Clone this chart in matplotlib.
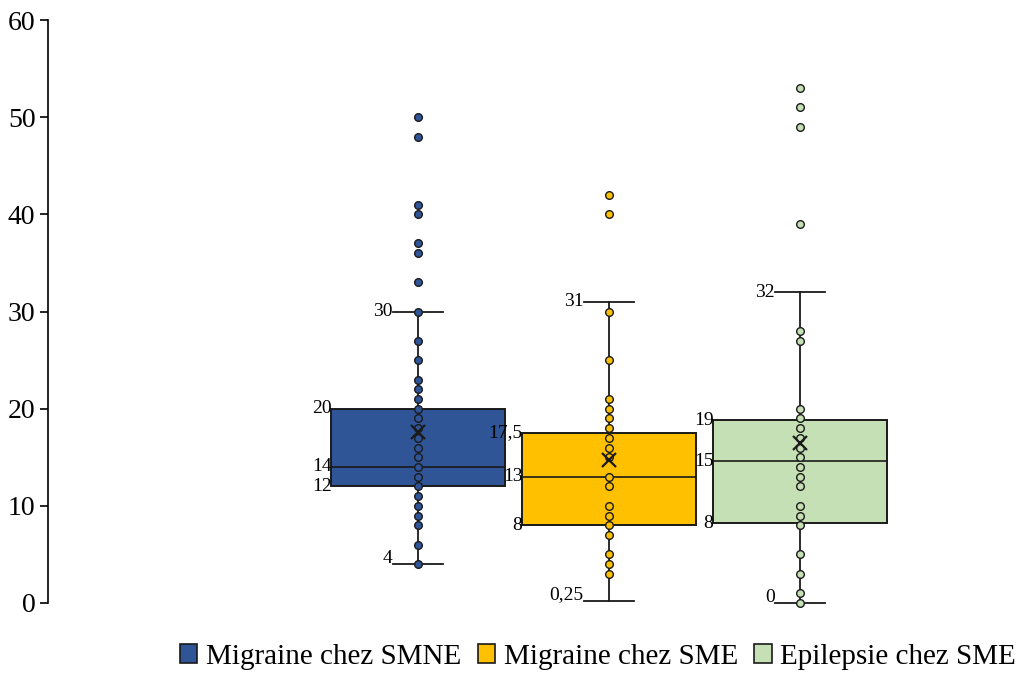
import numpy as np
import matplotlib
matplotlib.use('Agg')
import matplotlib.pyplot as plt
from matplotlib.patches import Patch

plt.rcParams['font.family'] = ['Liberation Serif', 'DejaVu Serif']

# séries
series = ['Migraine chez SMNE', 'Migraine chez SME', 'Epilepsie chez SME']
colors = ['#2F5597', '#FFC000', '#C5E0B4']

points_smne = [4, 6, 8, 9, 10, 11, 12, 13, 14, 15, 16, 17, 18, 19, 20, 21, 22, 23,
               25, 27, 30, 33, 36, 37, 40, 41, 48, 50]
points_sme = [3, 4, 5, 7, 8, 9, 10, 12, 13, 15, 16, 17, 18, 19, 20, 21, 25, 30, 40, 42]
points_epi = [0, 1, 3, 5, 8, 9, 10, 12, 13, 14, 15, 16, 17, 18, 19, 20, 27, 28,
              39, 49, 51, 53]

# quartiles / moustaches / moyennes
whis_lo = [4, 0.25, 0]
q1 = [12, 8, 8.2]
median = [14, 13, 14.6]
q3 = [20, 17.5, 18.8]
whis_hi = [30, 31, 32]
means = [17.6, 14.7, 16.5]

# étiquettes affichées
lbl_lo = ['4', '0,25', '0']
lbl_q1 = ['12', '8', '8']
lbl_med = ['14', '13', '15']
lbl_q3 = ['20', '17,5', '19']
lbl_hi = ['30', '31', '32']

positions = [1, 2, 3]
box_w = 0.906
cap_w = 0.267

fig = plt.figure(figsize=(10.21, 6.73), dpi=100)
ax = fig.add_axes([48 / 1021, 70 / 673, 952 / 1021, 583 / 673])

stats = []
for i in range(3):
    stats.append({'whislo': whis_lo[i], 'q1': q1[i], 'med': median[i], 'q3': q3[i],
                  'whishi': whis_hi[i], 'mean': means[i], 'fliers': []})

bp = ax.bxp(stats, positions=positions, widths=box_w, capwidths=cap_w,
            patch_artist=True, showmeans=True, showfliers=False,
            boxprops=dict(edgecolor='#1a1a1a', linewidth=1.4),
            medianprops=dict(color='#1a1a1a', linewidth=1.2),
            whiskerprops=dict(color='#1a1a1a', linewidth=1.3),
            capprops=dict(color='#1a1a1a', linewidth=1.3),
            meanprops=dict(marker='x', markeredgecolor='#1a1a1a', markersize=10,
                           markeredgewidth=1.6, zorder=5))
for patch, c in zip(bp['boxes'], colors):
    patch.set_facecolor(c)

for c in bp['caps'] + bp['whiskers']:
    c.set_clip_on(False)

# points de données
for pos, pts, c in zip(positions, [points_smne, points_sme, points_epi], colors):
    ax.plot([pos] * len(pts), pts, 'o', color=c, markeredgecolor='#1a1a1a',
            markersize=5.5, markeredgewidth=1.0, ls='none', zorder=4, clip_on=False)

# étiquettes des valeurs
for i, pos in enumerate(positions):
    xl_cap = pos - cap_w / 2
    xl_box = pos - box_w / 2
    ax.text(xl_cap, whis_hi[i], lbl_hi[i], ha='right', va='center', fontsize=14)
    ax.text(xl_cap, whis_lo[i] + 0.6, lbl_lo[i], ha='right', va='center', fontsize=14)
    ax.text(xl_box, q3[i], lbl_q3[i], ha='right', va='center', fontsize=14)
    ax.text(xl_box, median[i], lbl_med[i], ha='right', va='center', fontsize=14)
    ax.text(xl_box, q1[i], lbl_q1[i], ha='right', va='center', fontsize=14)

ax.set_xlim(1 - 370 / 191, 1 + 582 / 191)
ax.set_ylim(0, 60)
ax.set_yticks(np.arange(0, 61, 10))
ax.tick_params(axis='y', labelsize=20, direction='out', length=6, width=1.2, pad=3)
ax.set_xticks([])
for s in ['top', 'right', 'bottom']:
    ax.spines[s].set_visible(False)
ax.spines['left'].set_linewidth(1.2)

handles = [Patch(facecolor=c, edgecolor='#1a1a1a', linewidth=1.2) for c in colors]
fig.legend(handles, series, loc='center', bbox_to_anchor=(598 / 1021, 1 - 657 / 673),
           ncol=3, frameon=False, fontsize=21, handlelength=0.6, handleheight=0.6,
           handletextpad=0.3, columnspacing=0.55)

fig.savefig('out.png', dpi=100)
